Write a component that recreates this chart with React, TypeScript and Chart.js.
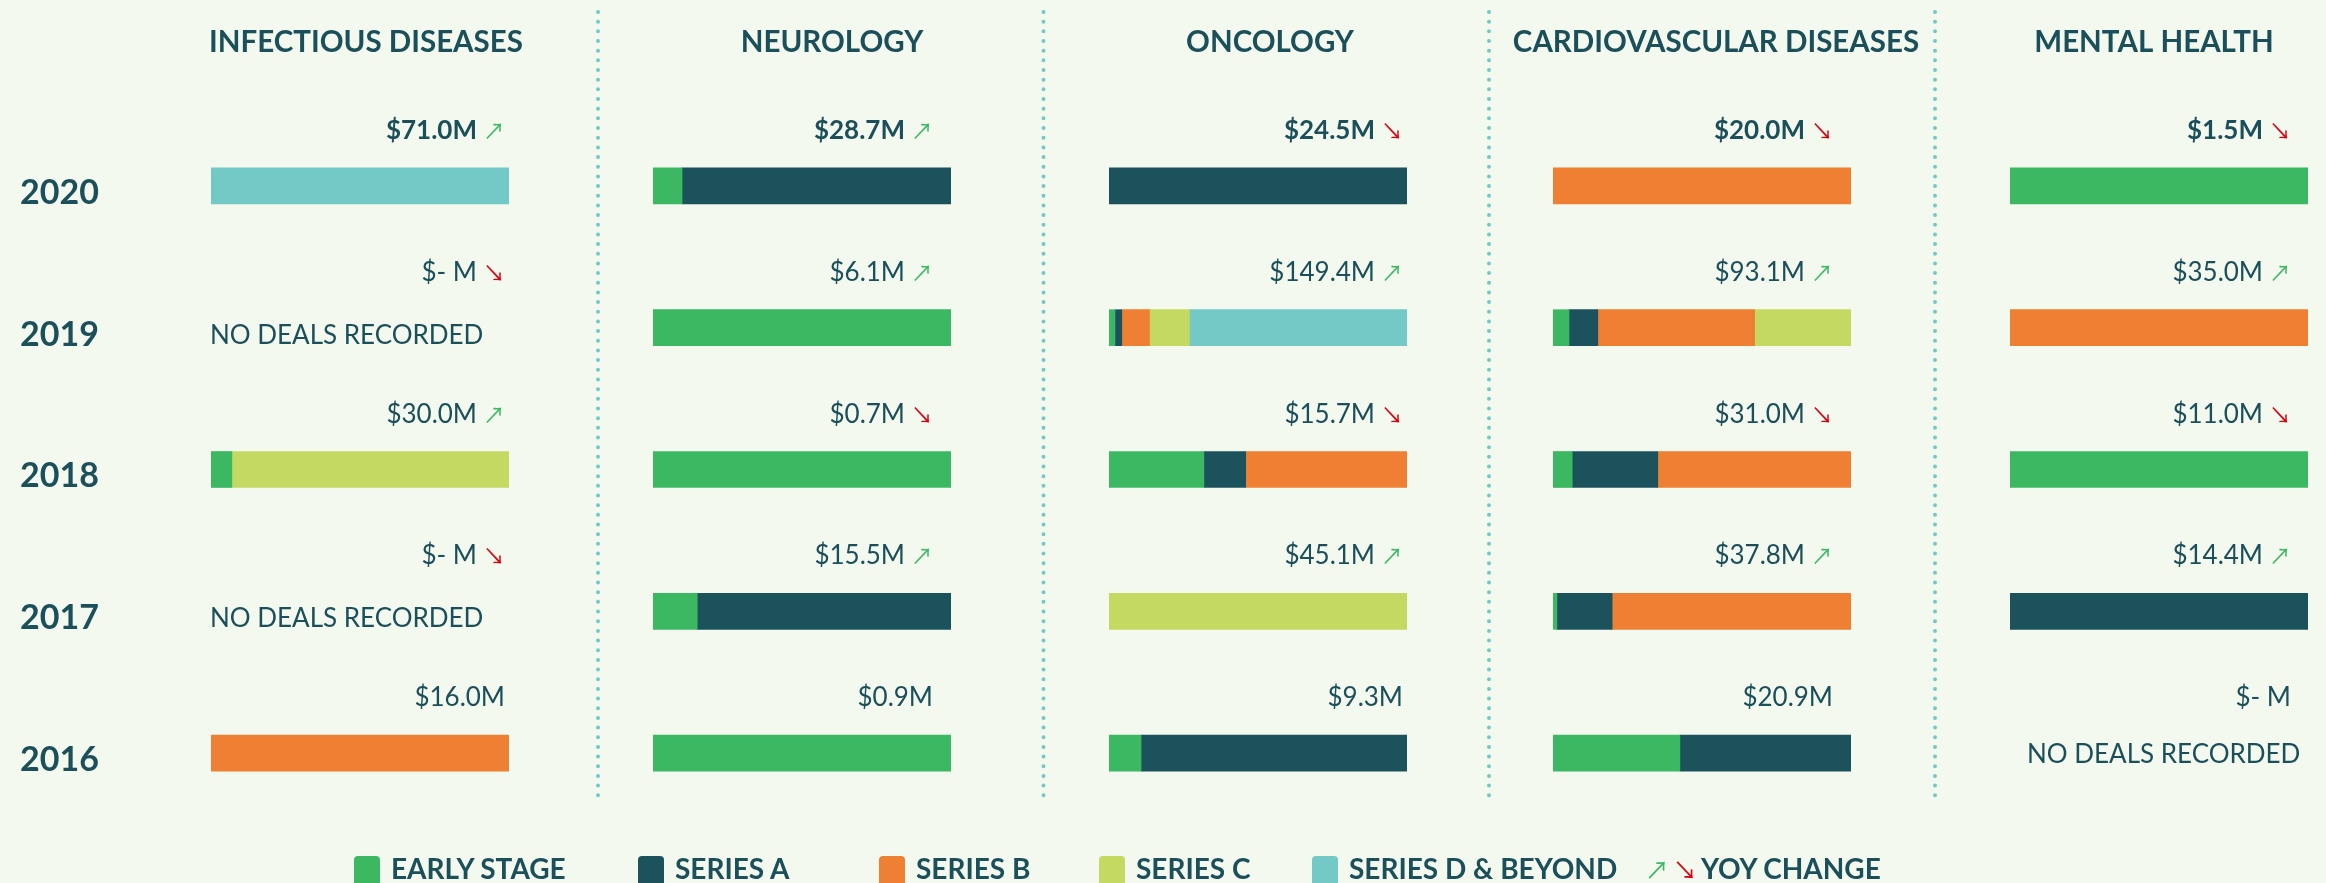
import React, { useEffect, useRef } from 'react';
import { Chart, registerables } from 'chart.js';

Chart.register(...registerables);

// ---------------- data ----------------
const YEARS = ['2020', '2019', '2018', '2017', '2016'];
const AREAS = ['INFECTIOUS DISEASES', 'NEUROLOGY', 'ONCOLOGY', 'CARDIOVASCULAR DISEASES', 'MENTAL HEALTH'];
const STAGES = ['EARLY STAGE', 'SERIES A', 'SERIES B', 'SERIES C', 'SERIES D & BEYOND'];

// rows: years (2020..2016); columns: [early, A, B, C, D & beyond] in $M
const INFECTIOUS_DISEASES = [
  [0, 0, 0, 0, 71.0],
  [0, 0, 0, 0, 0],
  [2.1, 0, 0, 27.9, 0],
  [0, 0, 0, 0, 0],
  [0, 0, 16.0, 0, 0],
];
const NEUROLOGY = [
  [2.8, 25.9, 0, 0, 0],
  [6.1, 0, 0, 0, 0],
  [0.7, 0, 0, 0, 0],
  [2.3, 13.2, 0, 0, 0],
  [0.9, 0, 0, 0, 0],
];
const ONCOLOGY = [
  [0, 24.5, 0, 0, 0],
  [3.0, 3.4, 13.9, 20.0, 109.1],
  [5.0, 2.2, 8.5, 0, 0],
  [0, 0, 0, 45.1, 0],
  [1.0, 8.3, 0, 0, 0],
];
const CARDIOVASCULAR_DISEASES = [
  [0, 0, 20.0, 0, 0],
  [5.0, 9.0, 49.0, 30.1, 0],
  [2.0, 8.9, 20.1, 0, 0],
  [0.5, 7.0, 30.3, 0, 0],
  [8.9, 12.0, 0, 0, 0],
];
const MENTAL_HEALTH = [
  [1.5, 0, 0, 0, 0],
  [0, 0, 35.0, 0, 0],
  [11.0, 0, 0, 0, 0],
  [0, 14.4, 0, 0, 0],
  [0, 0, 0, 0, 0],
];
const AREA_VALUES = [INFECTIOUS_DISEASES, NEUROLOGY, ONCOLOGY, CARDIOVASCULAR_DISEASES, MENTAL_HEALTH];

// ---------------- style / layout ----------------
const STAGE_COLORS = ['#3CB863', '#1B525C', '#EE7F33', '#C4D962', '#72C9C6'];
const TEXT = '#1B4F5A';
const UP = '#3CB863';
const DOWN = '#D9000D';
const BG = '#F4F9EF';
const SEP = '#72C9C6';

const W = 2326;
const H = 883;
const COL_EDGES = [0, 598, 1044, 1489, 1935, 2326];
const BAR_LEFT = [211, 653, 1109, 1553, 2010];
const BAR_WIDTH = 298;
const TITLE_CX = [366, 832, 1270, 1716, 2154];
const LABEL_INSET = [4, 18, 4, 18, 17];
const NO_DEALS_DX = [-1, 0, 0, 0, 17];
const NO_DEALS_DY = [-2, 0, 0, 0, -8];
const PLOT_TOP = 115;
const PLOT_BOTTOM = 824;
const BAR_THICKNESS = 36;
const SEPARATORS = [598, 1043.5, 1489, 1935];
const LEGEND_X = [354, 638, 879, 1099, 1312];
const YOY_X = 1645;

const total = (row: number[]) => Math.round(row.reduce((a, b) => a + b, 0) * 10) / 10;

function annotate(col: number) {
  return {
    id: 'annot' + col,
    afterDraw(chart: any) {
      const ctx = chart.ctx as CanvasRenderingContext2D;
      const { left, right } = chart.chartArea;
      const yScale = chart.scales.y;
      const rows = AREA_VALUES[col];
      const totals = rows.map(total);
      ctx.save();
      ctx.fillStyle = TEXT;
      ctx.font = 'bold 29.5px Lato';
      ctx.textAlign = 'center';
      ctx.textBaseline = 'alphabetic';
      ctx.fillText(AREAS[col], TITLE_CX[col] - COL_EDGES[col], 52);
      YEARS.forEach((_, i) => {
        const yc = yScale.getPixelForValue(i);
        const top = yc - BAR_THICKNESS / 2;
        const bottom = yc + BAR_THICKNESS / 2;
        const t = totals[i];
        const baseline = top - 29;
        let x = right - LABEL_INSET[col];
        ctx.textAlign = 'right';
        if (i < YEARS.length - 1) {
          const up = t > totals[i + 1];
          ctx.font = '22px "Noto Sans CJK JP"';
          ctx.fillStyle = up ? UP : DOWN;
          const arrow = up ? '\u2197' : '\u2198';
          ctx.fillText(arrow, x, baseline);
          x -= ctx.measureText(arrow).width + 6;
        }
        ctx.font = (i === 0 ? 'bold ' : '') + '26px Lato';
        ctx.fillStyle = TEXT;
        ctx.fillText(t > 0 ? `$${t.toFixed(1)}M` : '$- M', x, baseline);
        if (t === 0) {
          ctx.font = '26px Lato';
          ctx.textAlign = 'left';
          ctx.fillText('NO DEALS RECORDED', left + NO_DEALS_DX[col], bottom + NO_DEALS_DY[col]);
        }
      });
      ctx.restore();
    },
  };
}

function makeConfig(col: number): any {
  const rows = AREA_VALUES[col];
  const totals = rows.map(total);
  const datasets = STAGES.map((s, k) => ({
    label: s,
    data: rows.map((r, i) => (totals[i] > 0 && r[k] > 0 ? (r[k] / totals[i]) * 100 : null)),
    backgroundColor: STAGE_COLORS[k],
    borderWidth: 0,
    barThickness: BAR_THICKNESS,
  }));
  const isFirst = col === 0;
  const barRight = BAR_LEFT[col] + BAR_WIDTH;
  const yScale: any = {
    stacked: true,
    display: isFirst,
    grid: { display: false },
    border: { display: false },
    ticks: {
      color: TEXT,
      font: { family: 'Lato', size: 34, weight: 'bold' },
      crossAlign: 'far',
      labelOffset: 7,
      padding: 0,
    },
  };
  if (isFirst) {
    yScale.afterFit = (s: any) => {
      s.width = BAR_LEFT[0] - 20;
    };
  }
  return {
    type: 'bar',
    data: { labels: YEARS, datasets },
    options: {
      indexAxis: 'y',
      responsive: false,
      animation: false,
      devicePixelRatio: 1,
      layout: {
        padding: {
          left: isFirst ? 20 : BAR_LEFT[col] - COL_EDGES[col],
          right: COL_EDGES[col + 1] - barRight,
          top: PLOT_TOP,
          bottom: H - PLOT_BOTTOM,
        },
      },
      plugins: { legend: { display: false }, tooltip: { enabled: false }, title: { display: false } },
      scales: {
        x: { stacked: true, min: 0, max: 100, display: false },
        y: yScale,
      },
    },
    plugins: [annotate(col)],
  };
}

export default function App() {
  const refs = [useRef<HTMLCanvasElement>(null), useRef<HTMLCanvasElement>(null), useRef<HTMLCanvasElement>(null), useRef<HTMLCanvasElement>(null), useRef<HTMLCanvasElement>(null)];
  useEffect(() => {
    const charts = refs.map((r, col) => new Chart(r.current as HTMLCanvasElement, makeConfig(col)));
    return () => charts.forEach((c) => c.destroy());
  }, []);

  const legendText: React.CSSProperties = {
    position: 'absolute',
    top: 854,
    font: 'bold 28px Lato',
    lineHeight: '28px',
    color: TEXT,
    whiteSpace: 'nowrap',
  };

  return (
    <div style={{ position: 'fixed', left: 0, top: 0, width: W, height: H, background: BG, overflow: 'hidden', fontFamily: 'Lato' }}>
      {AREAS.map((_, col) => (
        <canvas
          key={col}
          ref={refs[col]}
          width={COL_EDGES[col + 1] - COL_EDGES[col]}
          height={H}
          style={{ position: 'absolute', left: COL_EDGES[col], top: 0, width: COL_EDGES[col + 1] - COL_EDGES[col], height: H }}
        />
      ))}
      <svg width={W} height={H} style={{ position: 'absolute', left: 0, top: 0, pointerEvents: 'none' }}>
        {SEPARATORS.map((x) => (
          <line key={x} x1={x} x2={x} y1={12} y2={800} stroke={SEP} strokeWidth={4} strokeDasharray="0 9.67" strokeLinecap="round" />
        ))}
      </svg>
      {STAGES.map((s, k) => (
        <React.Fragment key={s}>
          <div style={{ position: 'absolute', left: LEGEND_X[k], top: 856, width: 26, height: 32, borderRadius: 4, background: STAGE_COLORS[k] }} />
          <div style={{ ...legendText, left: LEGEND_X[k] + 37 }}>{s}</div>
        </React.Fragment>
      ))}
      <div style={{ ...legendText, left: YOY_X, font: '24px "Noto Sans CJK JP"', color: UP, top: 855 }}>{'\u2197'}</div>
      <div style={{ ...legendText, left: YOY_X + 28, font: '24px "Noto Sans CJK JP"', color: DOWN, top: 855 }}>{'\u2198'}</div>
      <div style={{ ...legendText, left: YOY_X + 56 }}>YOY CHANGE</div>
    </div>
  );
}
